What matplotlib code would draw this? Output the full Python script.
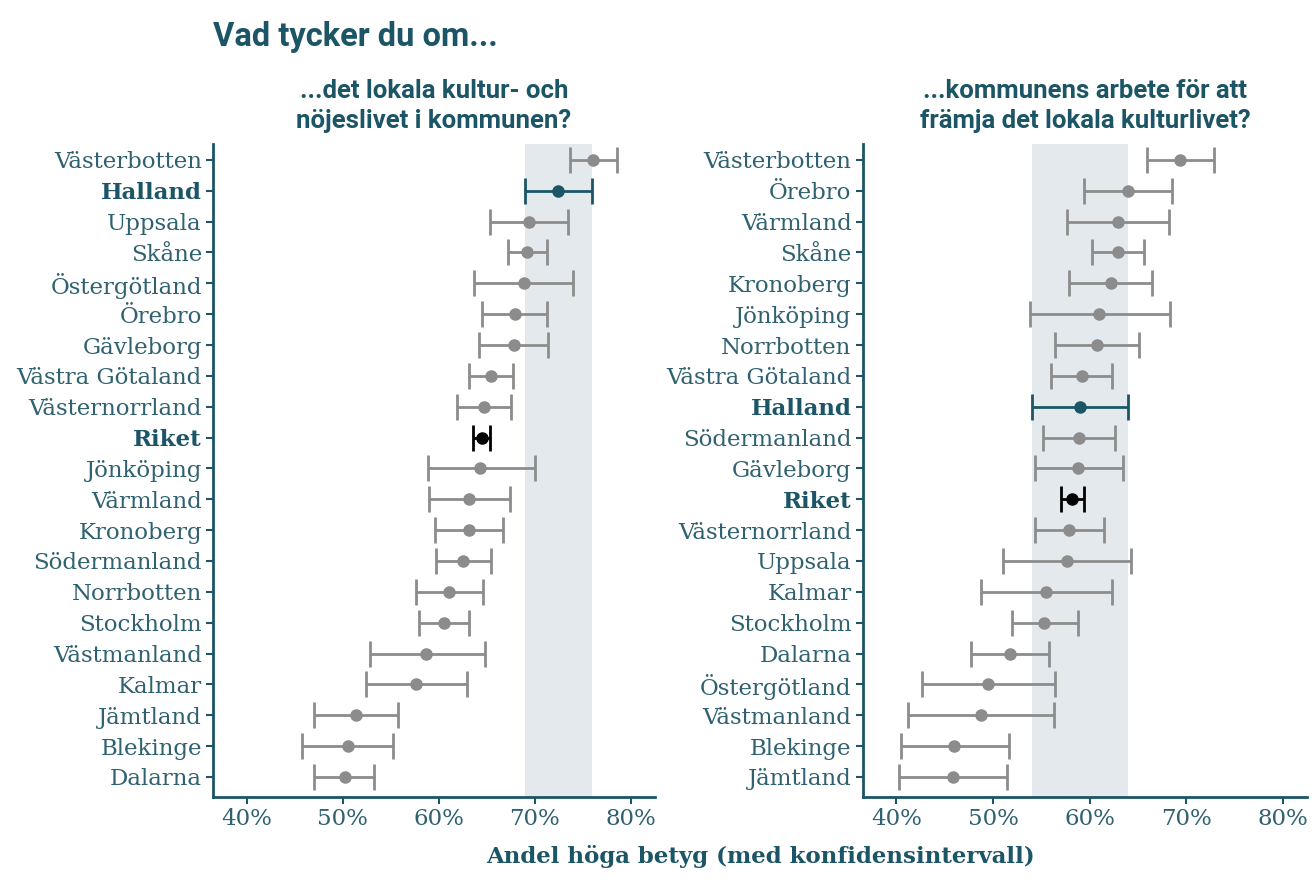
import matplotlib.pyplot as plt
from matplotlib.ticker import FuncFormatter

# vänster panel: lokala kultur- och nöjeslivet
lan_1 = ['Västerbotten', 'Halland', 'Uppsala', 'Skåne', 'Östergötland', 'Örebro',
         'Gävleborg', 'Västra Götaland', 'Västernorrland', 'Riket', 'Jönköping',
         'Värmland', 'Kronoberg', 'Södermanland', 'Norrbotten', 'Stockholm',
         'Västmanland', 'Kalmar', 'Jämtland', 'Blekinge', 'Dalarna']
andel_1 = [76.1, 72.4, 69.4, 69.2, 68.9, 67.9, 67.8, 65.4, 64.7, 64.5, 64.3,
           63.2, 63.2, 62.5, 61.1, 60.5, 58.7, 57.6, 51.4, 50.5, 50.2]
lag_1 = [73.7, 69.0, 65.3, 67.2, 63.7, 64.5, 64.2, 63.1, 61.9, 63.6, 58.9,
         59.0, 59.6, 59.7, 57.6, 57.9, 52.8, 52.4, 47.0, 45.8, 47.0]
hog_1 = [78.6, 76.0, 73.5, 71.3, 74.0, 71.3, 71.4, 67.7, 67.5, 65.3, 70.0,
         67.4, 66.7, 65.4, 64.6, 63.2, 64.8, 62.9, 55.8, 55.2, 53.3]

# höger panel: kommunens arbete för att främja kulturlivet
lan_2 = ['Västerbotten', 'Örebro', 'Värmland', 'Skåne', 'Kronoberg', 'Jönköping',
         'Norrbotten', 'Västra Götaland', 'Halland', 'Södermanland', 'Gävleborg',
         'Riket', 'Västernorrland', 'Uppsala', 'Kalmar', 'Stockholm', 'Dalarna',
         'Östergötland', 'Västmanland', 'Blekinge', 'Jämtland']
andel_2 = [69.3, 64.0, 62.9, 62.9, 62.2, 61.0, 60.8, 59.2, 59.0, 58.9, 58.8,
           58.2, 57.9, 57.6, 55.5, 55.3, 51.8, 49.5, 48.8, 46.0, 45.8]
lag_2 = [65.9, 59.4, 57.6, 60.2, 57.9, 53.8, 56.4, 56.0, 54.0, 55.2, 54.3,
         57.0, 54.3, 51.0, 48.7, 52.0, 47.7, 42.6, 41.2, 40.5, 40.3]
hog_2 = [72.9, 68.5, 68.2, 65.6, 66.4, 68.3, 65.1, 62.3, 64.0, 62.6, 63.4,
         59.4, 61.5, 64.3, 62.3, 58.8, 55.8, 56.4, 56.3, 51.6, 51.4]

teal = '#1b5566'
gray = '#8c8c8c'
band = '#e3e9ec'
serif = 'DejaVu Serif'

fig = plt.figure(figsize=(13.15, 8.83), dpi=100)
ax1 = fig.add_axes([0.162, 0.0974, 0.336, 0.739])
ax2 = fig.add_axes([0.656, 0.0974, 0.338, 0.739])


def panel(ax, lan, andel, lag, hog, rubrik):
    y = list(range(len(lan)))
    h = lan.index('Halland')
    ax.axvspan(lag[h], hog[h], color=band, zorder=0, lw=0)
    for i in y:
        if lan[i] == 'Halland':
            c = teal
        elif lan[i] == 'Riket':
            c = 'black'
        else:
            c = gray
        ax.errorbar(andel[i], i, xerr=[[andel[i] - lag[i]], [hog[i] - andel[i]]],
                    fmt='o', color=c, ms=8, elinewidth=2, capsize=9.5, capthick=2,
                    zorder=3)
    ax.set_ylim(len(lan) - 0.35, -0.5)
    ax.set_xlim(36.5, 82.5)
    ax.set_yticks(y)
    ax.set_yticklabels(lan)
    ax.set_xticks([40, 50, 60, 70, 80])
    ax.xaxis.set_major_formatter(FuncFormatter(lambda v, p: f'{v:.0f}%'))
    for s in ['top', 'right']:
        ax.spines[s].set_visible(False)
    for s in ['left', 'bottom']:
        ax.spines[s].set_color(teal)
        ax.spines[s].set_linewidth(2)
    ax.tick_params(colors=teal, width=1.5, length=5, labelsize=16.5, pad=3)
    for t in ax.get_yticklabels() + ax.get_xticklabels():
        t.set_family(serif)
        t.set_color('#2f6170')
        if t.get_text() in ('Halland', 'Riket'):
            t.set_fontweight('bold')
            t.set_color(teal)
    ax.set_title(rubrik, fontfamily='Roboto', fontweight='bold', fontsize=18.5,
                 color=teal, pad=12, linespacing=1.3)


panel(ax1, lan_1, andel_1, lag_1, hog_1,
      '...det lokala kultur- och\nnöjeslivet i kommunen?')
panel(ax2, lan_2, andel_2, lag_2, hog_2,
      '...kommunens arbete för att\nfrämja det lokala kulturlivet?')

fig.text(0.162, 0.958, 'Vad tycker du om...', fontfamily='Roboto', fontweight='bold',
         fontsize=23.5, color=teal, va='center', ha='left')
fig.text(0.578, 0.017, 'Andel höga betyg (med konfidensintervall)', fontfamily=serif,
         fontweight='bold', fontsize=16.5, color=teal, ha='center', va='bottom')

fig.savefig('out.png', dpi=100, facecolor='white')
